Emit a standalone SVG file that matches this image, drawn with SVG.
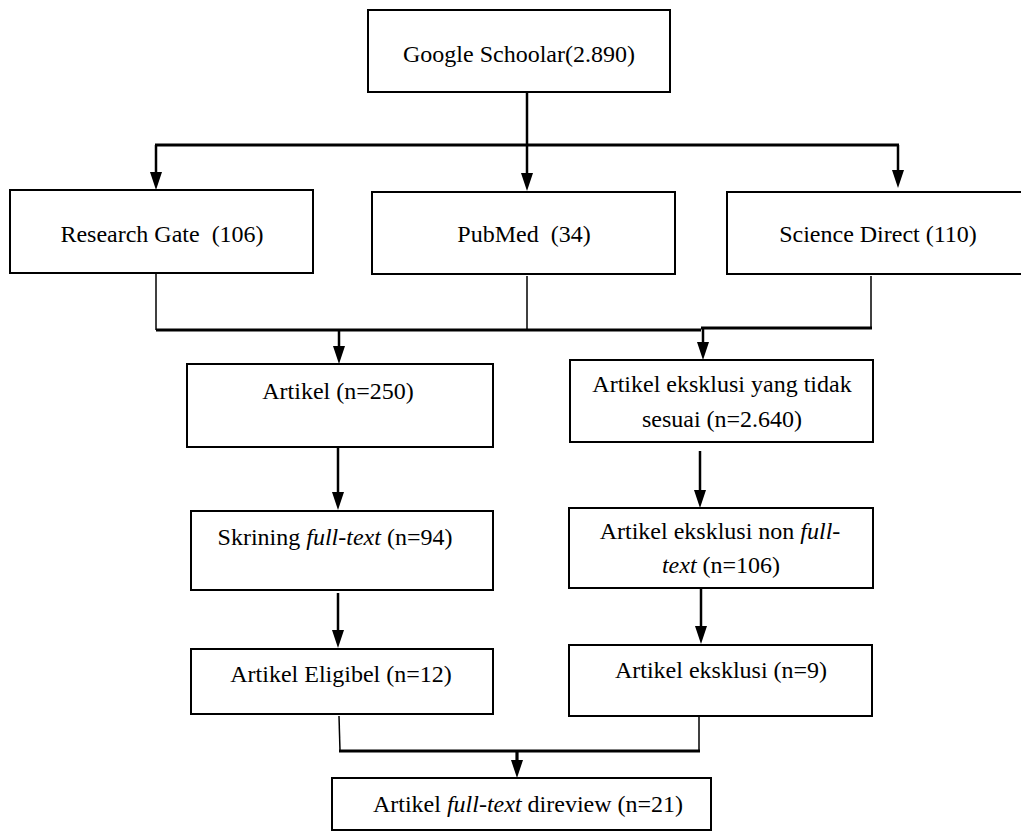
<svg xmlns="http://www.w3.org/2000/svg" xmlns:xlink="http://www.w3.org/1999/xlink" width="1021" height="833" viewBox="0 0 1021 833">
<style>
.box{fill:#fff;stroke:#000;stroke-width:2}
.t{font-family:'Liberation Serif',Tinos,'Times New Roman','DejaVu Serif',serif;font-size:24px;fill:#000;text-anchor:middle}
.i{font-style:italic}
.thin{stroke:#000;stroke-width:1.5;fill:none}
.mid{stroke:#000;stroke-width:2.5;fill:none}
.thick{stroke:#000;stroke-width:3.2;fill:none}
</style>
<defs>
<path id="ah" d="M-6,-18 L6,-18 L0,0 Z" fill="#000"/>
</defs>
<rect width="1021" height="833" fill="#fff"/>
<g id="connectors">
<line class="mid" x1="527" y1="92" x2="527" y2="145"/>
<line class="thick" x1="155" y1="145" x2="899" y2="145"/>
<line class="mid" x1="156" y1="145" x2="156" y2="175"/>
<use xlink:href="#ah" x="156" y="190"/>
<line class="mid" x1="527" y1="145" x2="527" y2="176"/>
<use xlink:href="#ah" x="527" y="191"/>
<line class="mid" x1="898" y1="145" x2="898" y2="173"/>
<use xlink:href="#ah" x="898" y="188"/>
<line class="thin" x1="156" y1="273" x2="156" y2="330"/>
<line class="thin" x1="527" y1="276" x2="527" y2="331"/>
<line class="thin" x1="871" y1="276" x2="871" y2="329"/>
<line class="thick" x1="156" y1="330" x2="701" y2="330"/>
<line class="thick" x1="701" y1="328" x2="872" y2="328"/>
<line class="mid" x1="339" y1="330" x2="339" y2="350"/>
<use xlink:href="#ah" x="339" y="364"/>
<line class="mid" x1="703" y1="328" x2="703" y2="346"/>
<use xlink:href="#ah" x="703" y="360"/>
<line class="mid" x1="338" y1="447" x2="338" y2="496"/>
<use xlink:href="#ah" x="338" y="510"/>
<line class="mid" x1="700" y1="451" x2="700" y2="494"/>
<use xlink:href="#ah" x="700" y="508"/>
<line class="mid" x1="338" y1="593" x2="338" y2="634"/>
<use xlink:href="#ah" x="338" y="648"/>
<line class="mid" x1="701" y1="589" x2="701" y2="630"/>
<use xlink:href="#ah" x="701" y="644"/>
<line class="thin" x1="339" y1="716" x2="340" y2="751"/>
<line class="thin" x1="699" y1="716" x2="699" y2="751"/>
<line class="thick" x1="339" y1="751" x2="700" y2="751"/>
<line class="thick" x1="517" y1="751" x2="517" y2="764"/>
<use xlink:href="#ah" x="517" y="778"/>
</g>
<g id="google">
<rect class="box" x="368" y="10" width="302" height="82"/>
<text class="t" x="519" y="62" font-family="Liberation Serif, serif">Google Schoolar(2.890)</text>
</g>
<g id="researchgate">
<rect class="box" x="10" y="190" width="303" height="83"/>
<text class="t" x="162" y="242" xml:space="preserve">Research Gate  (106)</text>
</g>
<g id="pubmed">
<rect class="box" x="372" y="192" width="303" height="82"/>
<text class="t" x="524" y="242" xml:space="preserve">PubMed  (34)</text>
</g>
<g id="sciencedirect">
<rect class="box" x="727" y="192" width="310" height="82"/>
<text class="t" x="878" y="242">Science Direct (110)</text>
</g>
<g id="artikel">
<rect class="box" x="187" y="364" width="306" height="83"/>
<text class="t" x="338" y="399">Artikel (n=250)</text>
</g>
<g id="eksklusi1">
<rect class="box" x="570" y="360" width="303" height="82"/>
<text class="t" x="722" y="392">Artikel eksklusi yang tidak</text>
<text class="t" x="722" y="427">sesuai (n=2.640)</text>
</g>
<g id="skrining">
<rect class="box" x="191" y="511" width="302" height="79"/>
<text class="t" x="335" y="545">Skrining <tspan class="i">full-text</tspan> (n=94)</text>
</g>
<g id="eksklusi2">
<rect class="box" x="569" y="508" width="304" height="80"/>
<text class="t" x="720" y="539">Artikel eksklusi non <tspan class="i">full-</tspan></text>
<text class="t" x="721" y="573"><tspan class="i">text</tspan> (n=106)</text>
</g>
<g id="eligibel">
<rect class="box" x="191" y="649" width="302" height="65"/>
<text class="t" x="341" y="682">Artikel Eligibel (n=12)</text>
</g>
<g id="eksklusi3">
<rect class="box" x="569" y="645" width="303" height="71"/>
<text class="t" x="721" y="678">Artikel eksklusi (n=9)</text>
</g>
<g id="final">
<rect class="box" x="332" y="778" width="379" height="52"/>
<text class="t" x="528" y="812">Artikel <tspan class="i">full-text</tspan> direview (n=21)</text>
</g>
</svg>
